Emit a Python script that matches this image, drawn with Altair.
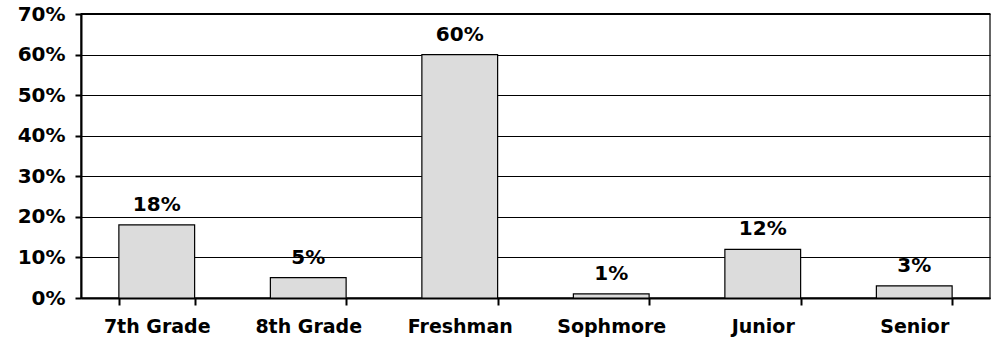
import altair as alt
import pandas as pd

# Share of respondents by grade level
grades = ["7th Grade", "8th Grade", "Freshman", "Sophmore", "Junior", "Senior"]
shares = [0.18, 0.05, 0.60, 0.01, 0.12, 0.03]

df = pd.DataFrame({"grade": grades, "share": shares})

FONT = "DejaVu Sans"

x_enc = alt.X(
    "grade:N",
    sort=grades,
    title=None,
    scale=alt.Scale(paddingInner=0.5, paddingOuter=0.25),
    axis=alt.Axis(
        labelAngle=0,
        labelFont=FONT,
        labelFontWeight="bold",
        labelFontSize=19,
        labelColor="black",
        labelPadding=12,
        tickBand="extent",
        tickSize=7,
        tickColor="black",
        tickWidth=2,
        domainColor="black",
        domainWidth=2,
        grid=False,
    ),
)

y_enc = alt.Y(
    "share:Q",
    title=None,
    scale=alt.Scale(domain=[0, 0.7], nice=False),
    axis=alt.Axis(
        format=".0%",
        values=[0, 0.1, 0.2, 0.3, 0.4, 0.5, 0.6, 0.7],
        labelFont=FONT,
        labelFontWeight="bold",
        labelFontSize=20,
        labelColor="black",
        labelPadding=10,
        tickSize=6,
        tickColor="black",
        tickWidth=2,
        domainColor="black",
        domainWidth=2,
        grid=True,
        gridColor="black",
        gridWidth=1.2,
        gridOpacity=1,
    ),
)

bars = alt.Chart(df).mark_bar(
    fill="#dcdcdc", stroke="black", strokeWidth=1.2
).encode(x=x_enc, y=y_enc)

labels = alt.Chart(df).mark_text(
    font=FONT, fontWeight="bold", fontSize=20, color="black",
    baseline="bottom", dy=-10,
).encode(
    x=alt.X("grade:N", sort=grades),
    y="share:Q",
    text=alt.Text("share:Q", format=".0%"),
)

top_rule = alt.Chart(pd.DataFrame({"v": [0.7]})).mark_rule(
    color="black", strokeWidth=2
).encode(y="v:Q")

chart = (
    alt.layer(bars, top_rule, labels)
    .properties(
        width=909,
        height=284,
        autosize=alt.AutoSizeParams(type="none"),
        padding={"left": 81, "top": 14, "right": 5, "bottom": 47},
        background="white",
    )
    .configure_view(stroke="#333333", strokeWidth=1.5)
)

chart.save("out.html", embed_options={"renderer": "svg", "actions": False})
